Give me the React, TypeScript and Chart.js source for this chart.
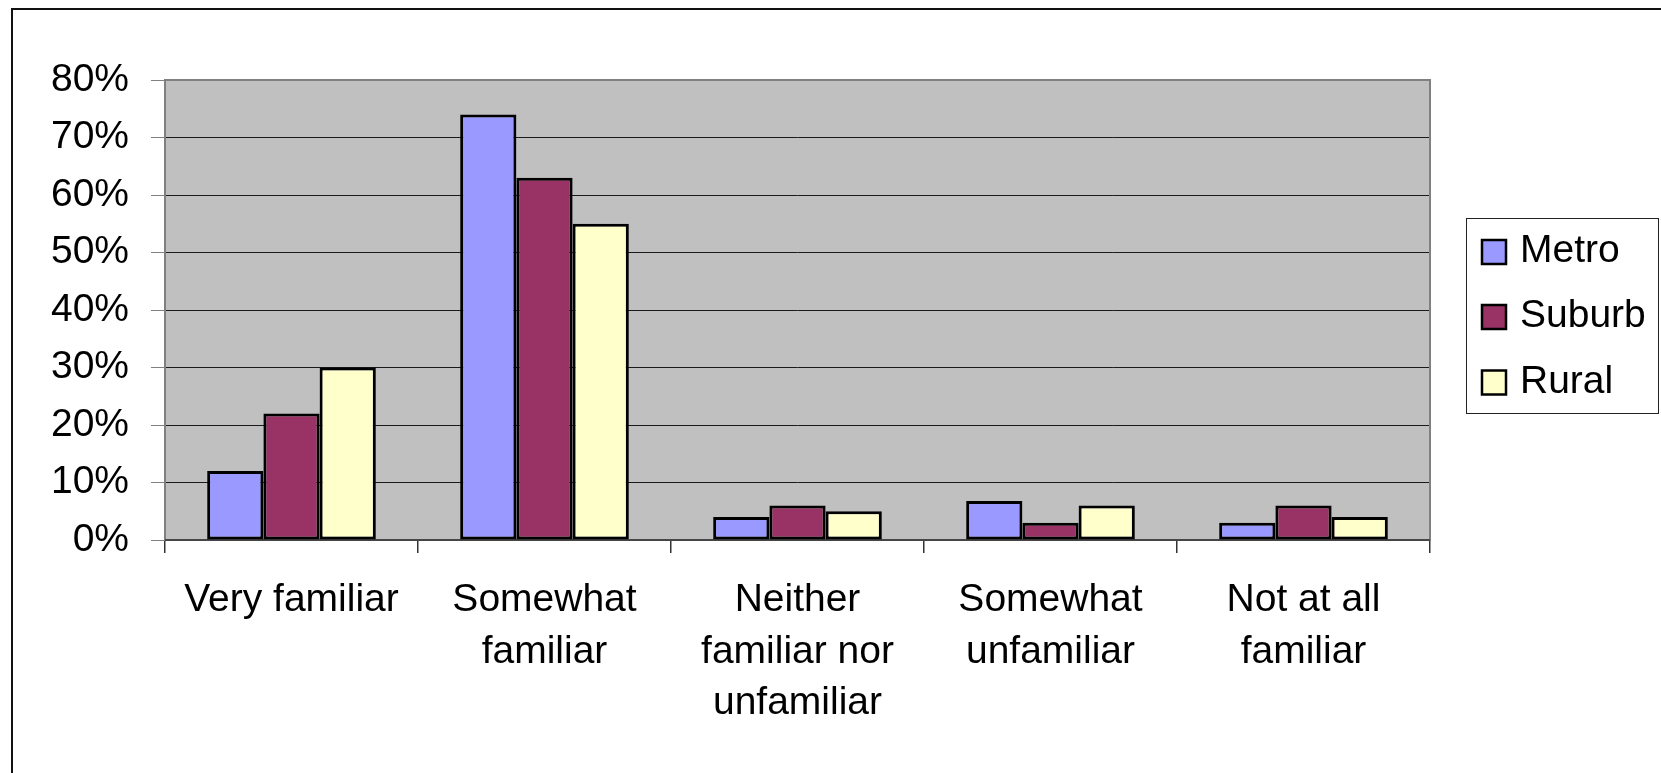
import React, { useEffect, useRef } from "react";
import { Chart, registerables } from "chart.js";

Chart.register(...registerables);

const categories: (string | string[])[] = [
  "Very familiar",
  ["Somewhat", "familiar"],
  ["Neither", "familiar nor", "unfamiliar"],
  ["Somewhat", "unfamiliar"],
  ["Not at all", "familiar"],
];

const seriesNames = ["Metro", "Suburb", "Rural"];
const metroValues = [12, 74, 4, 6.8, 3];
const suburbValues = [22, 63, 6, 3, 6];
const ruralValues = [30, 55, 5, 6, 4];
const seriesColors = ["#9999FF", "#993366", "#FFFFCC"];

const yTickMin = 0;
const yTickMax = 80;
const yTickStep = 10;

const FONT = '"Liberation Sans", Arial, sans-serif';

const framePlugin = {
  id: "frame",
  beforeDraw(chart: any) {
    const { ctx, chartArea } = chart;
    ctx.save();
    ctx.fillStyle = "#ffffff";
    ctx.fillRect(0, 0, chart.width, chart.height);
    ctx.fillStyle = "#C0C0C0";
    ctx.fillRect(chartArea.left, chartArea.top, chartArea.right - chartArea.left, chartArea.bottom - chartArea.top);
    ctx.strokeStyle = "#111111";
    ctx.lineWidth = 2;
    ctx.beginPath();
    ctx.moveTo(12, chart.height);
    ctx.lineTo(12, 9);
    ctx.lineTo(chart.width, 9);
    ctx.stroke();
    ctx.restore();
  },
  beforeDatasetsDraw(chart: any) {
    const { ctx, chartArea } = chart;
    ctx.save();
    ctx.strokeStyle = "#808080";
    ctx.lineWidth = 2;
    ctx.strokeRect(chartArea.left, chartArea.top, chartArea.right - chartArea.left, chartArea.bottom - chartArea.top);
    ctx.strokeStyle = "#333333";
    ctx.lineWidth = 1.5;
    ctx.beginPath();
    ctx.moveTo(chartArea.left, chartArea.bottom);
    ctx.lineTo(chartArea.right, chartArea.bottom);
    ctx.stroke();
    ctx.restore();
  },
  afterDraw(chart: any) {
    const { ctx } = chart;
    const boxL = 1466;
    const boxT = 218;
    const boxR = 1658;
    const boxB = 413;
    ctx.save();
    ctx.strokeStyle = "#222222";
    ctx.lineWidth = 1;
    ctx.strokeRect(boxL + 0.5, boxT + 0.5, boxR - boxL, boxB - boxT);
    const baselines = [262, 327, 392.5];
    chart.data.datasets.forEach((ds: any, i: number) => {
      const base = baselines[i];
      const size = 24;
      const mx = 1482;
      const my = base - 10 - size / 2;
      ctx.fillStyle = ds.backgroundColor;
      ctx.fillRect(mx, my, size, size);
      ctx.strokeStyle = "#000";
      ctx.lineWidth = 2.5;
      ctx.strokeRect(mx, my, size, size);
      ctx.fillStyle = "#000";
      ctx.font = `39px ${FONT}`;
      ctx.textBaseline = "alphabetic";
      ctx.textAlign = "left";
      ctx.fillText(ds.label, 1520, base);
    });
    ctx.restore();
  },
};

export default function App() {
  const canvasRef = useRef<HTMLCanvasElement | null>(null);

  useEffect(() => {
    if (!canvasRef.current) return;
    const values = [metroValues, suburbValues, ruralValues];
    const chart = new Chart(canvasRef.current, {
      type: "bar",
      data: {
        labels: categories,
        datasets: seriesNames.map((name, i) => ({
          label: name,
          data: values[i],
          backgroundColor: seriesColors[i],
          borderColor: "#000000",
          borderWidth: 3,
          borderSkipped: false,
          categoryPercentage: 3 / 4.5,
          barPercentage: 1,
        })),
      },
      options: {
        responsive: false,
        animation: false,
        devicePixelRatio: 1,
        layout: { padding: { top: 80, right: 231, left: 0, bottom: 0 } },
        plugins: {
          legend: { display: false },
          tooltip: { enabled: false },
          title: { display: false },
        },
        scales: {
          x: {
            offset: true,
            grid: {
              offset: true,
              drawOnChartArea: false,
              drawTicks: true,
              tickLength: 13,
              tickColor: "#333333",
              lineWidth: 1.5,
            },
            border: { display: false },
            ticks: {
              autoSkip: false,
              maxRotation: 0,
              minRotation: 0,
              padding: 21,
              color: "#000",
              font: { family: FONT, size: 39, lineHeight: 1.33 },
            },
            afterFit(scale: any) {
              scale.height = 233;
            },
          },
          y: {
            min: yTickMin,
            max: yTickMax,
            grid: {
              color: "#1a1a1a",
              lineWidth: 1,
              tickLength: 14,
              tickColor: "#808080",
            },
            border: { display: false },
            ticks: {
              stepSize: yTickStep,
              padding: 22,
              color: "#000",
              font: { family: FONT, size: 39 },
              callback: (v: any) => `${v}%`,
            },
            afterFit(scale: any) {
              scale.width = 165;
            },
          },
        },
      },
      plugins: [framePlugin],
    });
    return () => chart.destroy();
  }, []);

  return (
    <div style={{ position: "absolute", left: 0, top: 0, width: 1661, height: 773, background: "#fff" }}>
      <canvas ref={canvasRef} width={1661} height={773} style={{ display: "block" }} />
    </div>
  );
}
